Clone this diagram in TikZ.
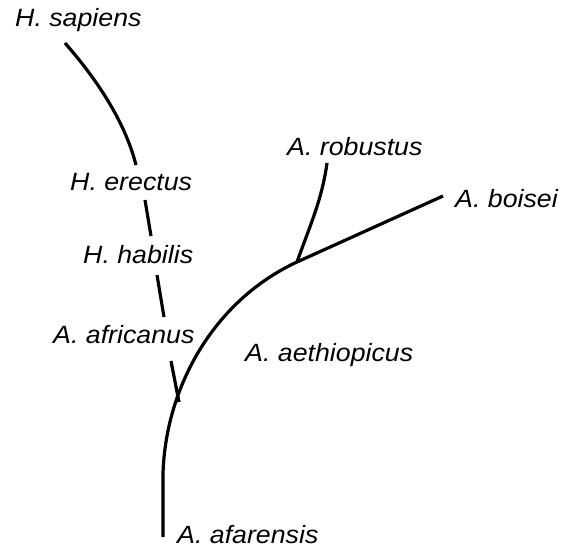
\documentclass[tikz,border=0pt]{standalone}
\usepackage{fontspec}
\setmainfont{Liberation Sans}[FakeStretch=1.07]
\begin{document}
\begin{tikzpicture}[x=1pt,y=-1pt,
  lab/.style={anchor=base west,inner sep=0pt,font=\fontsize{25}{30}\selectfont\itshape},
  branch/.style={line width=3.2pt,line cap=butt}]
\useasboundingbox[fill=white] (0,0) rectangle (564,551);
% labels
\node[lab] (sap) at (15,27) {H. sapiens};
\node[lab] (ere) at (70,190) {H. erectus};
\node[lab] (hab) at (83,263) {H. habilis};
\node[lab] (afr) at (53,343) {A. africanus};
\node[lab] (aet) at (245,361) {A. aethiopicus};
\node[lab] (afa) at (177,543) {A. afarensis};
\node[lab] (rob) at (287,155) {A. robustus};
\node[lab] (boi) at (455,207) {A. boisei};
% branch points
\coordinate (s1) at (65,43);
\coordinate (s2) at (136,165);
\coordinate (e1) at (145,200);
\coordinate (e2) at (151,236);
\coordinate (h1) at (157,275);
\coordinate (h2) at (164,317);
\coordinate (a1) at (171,361);
\coordinate (a2) at (179,402);
\coordinate (bot) at (163,537);
\coordinate (low) at (163,473);
\coordinate (j) at (297,262);
\coordinate (r1) at (327,163);
\coordinate (b1) at (443,196);
% branches
\draw[branch] (s1) .. controls (93,75) and (124,118) .. (s2);
\draw[branch] (e1) -- (e2);
\draw[branch] (h1) -- (h2);
\draw[branch] (a1) -- (a2);
\draw[branch] (bot) -- (low) .. controls (166,385) and (215,300) .. (j) -- (b1);
\draw[branch] (j) .. controls (309,228) and (322,200) .. (r1);
\end{tikzpicture}
\end{document}
